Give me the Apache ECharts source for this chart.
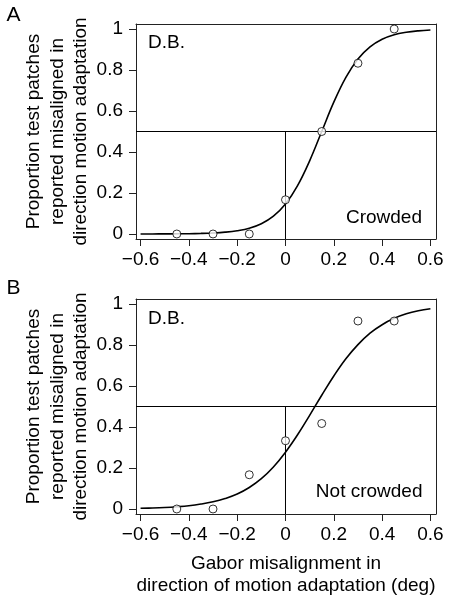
<!DOCTYPE html>
<html>
<head>
<meta charset="utf-8">
<script src="https://cdn.jsdelivr.net/npm/echarts@6/dist/echarts.min.js"></script>
<style>
html,body{margin:0;padding:0;background:#fff;}
#chart{width:451px;height:601px;}
</style>
</head>
<body>
<div id="chart"></div>
<script>
// Tick labels
const xTicks = [-0.6, -0.4, -0.2, 0, 0.2, 0.4, 0.6];
const yTicks = [0, 0.2, 0.4, 0.6, 0.8, 1];

// Observed data (stimulus misalignment, proportion)
const stimX = [-0.45, -0.3, -0.15, 0, 0.15, 0.3, 0.45];
const crowdedY = [0, 0, 0, 0.167, 0.5, 0.833, 1.0];
const notCrowdedY = [0, 0, 0.167, 0.333, 0.417, 0.917, 0.917];

// Fitted psychometric curves
const fitX = [-0.6, -0.55, -0.5, -0.45, -0.4, -0.35, -0.3, -0.25, -0.2, -0.15, -0.1, -0.05, 0,
              0.05, 0.1, 0.15, 0.2, 0.25, 0.3, 0.35, 0.4, 0.45, 0.5, 0.55, 0.6];
const crowdedFit = [0.0001, 0.0003, 0.0005, 0.0009, 0.0015, 0.0028, 0.005, 0.009, 0.016, 0.028, 0.05, 0.087, 0.146,
                    0.236, 0.357, 0.5, 0.643, 0.764, 0.854, 0.913, 0.95, 0.972, 0.984, 0.991, 0.995];
const notCrowdedFit = [0.0034, 0.005, 0.0074, 0.011, 0.016, 0.024, 0.035, 0.051, 0.073, 0.105, 0.148, 0.205, 0.277,
                       0.362, 0.457, 0.555, 0.649, 0.733, 0.802, 0.858, 0.899, 0.93, 0.952, 0.967, 0.977];

// Reference lines
const refY = 0.5;
const refX = 0;

const panelLetters = ['A', 'B'];
const subjectLabel = 'D.B.';
const conditionLabels = ['Crowded', 'Not crowded'];
const yTitle = 'Proportion test patches\nreported misaligned in\ndirection motion adaptation';
const xTitle = 'Gabor misalignment in\ndirection of motion adaptation (deg)';

const X_MIN = -0.6189, X_MAX = 0.6231;
const Y_MIN = -0.0244, Y_MAX = 1.0244;

const FONT = '"Liberation Sans", Arial, Helvetica, sans-serif';
const FS = 19;
const BOX = '#222';

const zip = (xs, ys) => xs.map((x, i) => [x, ys[i]]);
const fmt = v => {
  const s = String(Math.round(v * 10) / 10);
  return s.replace('-', '\u2212');
};

const grids = [
  {left: 136, width: 300, top: 24, height: 215},
  {left: 136, width: 300, top: 299, height: 215}
];

function xAxisFor(i) {
  return {
    type: 'value', gridIndex: i, min: X_MIN, max: X_MAX, position: 'bottom',
    axisLine: {show: true, onZero: false, lineStyle: {color: BOX, width: 1}}, splitLine: {show: false},
    axisTick: {show: true, length: 7, customValues: xTicks, lineStyle: {color: BOX, width: 1}},
    axisLabel: {customValues: xTicks, formatter: fmt, fontSize: FS, color: '#000', fontFamily: FONT, margin: 11}
  };
}
function xAxisTop(i) {
  return {
    type: 'value', gridIndex: i, min: X_MIN, max: X_MAX, position: 'top',
    axisLine: {show: true, onZero: false, lineStyle: {color: BOX, width: 1}}, splitLine: {show: false},
    axisTick: {show: false}, axisLabel: {show: false}
  };
}
function yAxisFor(i) {
  return {
    type: 'value', gridIndex: i, min: Y_MIN, max: Y_MAX, position: 'left',
    axisLine: {show: true, onZero: false, lineStyle: {color: BOX, width: 1}}, splitLine: {show: false},
    axisTick: {show: true, length: 7, customValues: yTicks, lineStyle: {color: BOX, width: 1}},
    axisLabel: {customValues: yTicks, formatter: fmt, fontSize: FS, color: '#000', fontFamily: FONT, margin: 13}
  };
}
function yAxisRight(i) {
  return {
    type: 'value', gridIndex: i, min: Y_MIN, max: Y_MAX, position: 'right',
    axisLine: {show: true, onZero: false, lineStyle: {color: BOX, width: 1}}, splitLine: {show: false},
    axisTick: {show: false}, axisLabel: {show: false}
  };
}

function panelSeries(i, fit, obs) {
  return [
    {type: 'line', xAxisIndex: i, yAxisIndex: i, data: [[X_MIN, refY], [X_MAX, refY]],
     symbol: 'none', lineStyle: {color: '#000', width: 1}, silent: true, z: 1},
    {type: 'line', xAxisIndex: i, yAxisIndex: i, data: [[refX, Y_MIN], [refX, refY]],
     symbol: 'none', lineStyle: {color: '#000', width: 1}, silent: true, z: 1},
    {type: 'line', xAxisIndex: i, yAxisIndex: i, data: zip(fitX, fit), smooth: 0.4,
     symbol: 'none', lineStyle: {color: '#000', width: 1.6}, silent: true, z: 2},
    {type: 'scatter', xAxisIndex: i, yAxisIndex: i, data: zip(stimX, obs), symbol: 'circle', symbolSize: 8,
     itemStyle: {color: '#fff', borderColor: '#000', borderWidth: 1}, silent: true, z: 3}
  ];
}

function txt(x, y, text, opts) {
  return {type: 'text', x: x, y: y, rotation: opts.rotation || 0, z: 10,
    style: Object.assign({text: text, fill: '#000', font: (opts.size || FS) + 'px ' + FONT,
      textAlign: opts.align || 'left', textVerticalAlign: 'middle', lineHeight: opts.lh || FS + 4}, opts.style || {})};
}

const graphics = [
  txt(13.5, 15, panelLetters[0], {size: 21, align: 'center'}),
  txt(13.5, 288.5, panelLetters[1], {size: 21, align: 'center'}),
  txt(148, 42.5, subjectLabel, {}),
  txt(148, 318.5, subjectLabel, {}),
  txt(422, 217.5, conditionLabels[0], {align: 'right'}),
  txt(422.5, 491.5, conditionLabels[1], {align: 'right'}),
  txt(57.5, 131.5, yTitle, {align: 'center', rotation: Math.PI / 2, lh: 23.3}),
  txt(57.5, 406.5, yTitle, {align: 'center', rotation: Math.PI / 2, lh: 23.3}),
  txt(286, 575, xTitle, {align: 'center', lh: 22})
];

const chart = echarts.init(document.getElementById('chart'), null, {renderer: 'canvas'});
chart.setOption({
  animation: false,
  backgroundColor: '#fff',
  grid: grids,
  xAxis: [xAxisFor(0), xAxisFor(1), xAxisTop(0), xAxisTop(1)],
  yAxis: [yAxisFor(0), yAxisFor(1), yAxisRight(0), yAxisRight(1)],
  series: [].concat(panelSeries(0, crowdedFit, crowdedY), panelSeries(1, notCrowdedFit, notCrowdedY)),
  graphic: graphics
});
</script>
</body>
</html>
